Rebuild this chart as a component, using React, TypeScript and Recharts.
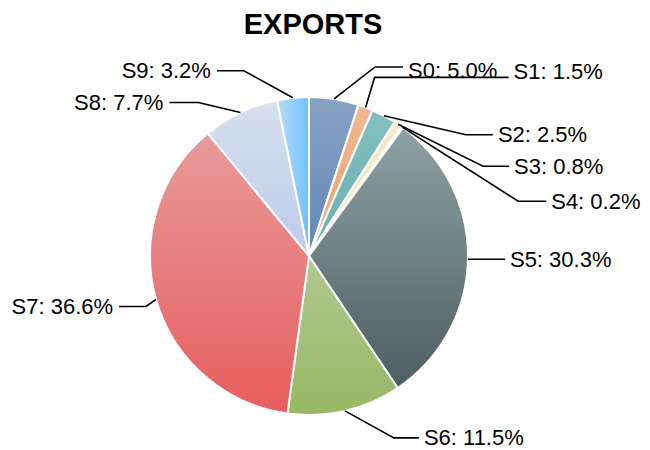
import React from 'react';
import { PieChart, Pie, Cell } from 'recharts';

const categories = ['S0', 'S1', 'S2', 'S3', 'S4', 'S5', 'S6', 'S7', 'S8', 'S9'];
const shares = [5.0, 1.5, 2.5, 0.8, 0.2, 30.3, 11.5, 36.6, 7.7, 3.2];

// gradient colours [start, end, horizontal?]
const gradients: [string, string, boolean][] = [
  ['#87a3c3', '#6088b8', false],
  ['#f2b892', '#eea070', false],
  ['#84c0c0', '#6aaeb0', false],
  ['#f4ecc8', '#ece0a8', false],
  ['#faf6e0', '#f0ecd0', false],
  ['#8da2a4', '#4e5e62', false],
  ['#b0c890', '#98b864', false],
  ['#e89a9a', '#e85e5e', false],
  ['#d8e0ee', '#bccbec', false],
  ['#b8dcf8', '#70c0ff', true],
];

// leader-line layout: elbow offset from the slice edge point, horizontal run, text vertical nudge
const labelLayout: { dx: number; dy: number; run: number; tdy: number }[] = [
  { dx: 41, dy: -32, run: 28, tdy: 4 },
  { dx: 9, dy: -30, run: 134, tdy: -6 },
  { dx: 82, dy: 19, run: 27, tdy: 0 },
  { dx: 85, dy: 42, run: 26, tdy: 0 },
  { dx: 116, dy: 74, run: 28, tdy: 0 },
  { dx: 10, dy: 0, run: 27, tdy: 0 },
  { dx: 49, dy: 27, run: 25, tdy: 0 },
  { dx: -10, dy: 7, run: 27, tdy: 0 },
  { dx: -42, dy: -10, run: 29, tdy: 0 },
  { dx: -49, dy: -27, run: 27, tdy: 0 },
];

const data = categories.map((name, i) => ({ name, value: shares[i] }));
const RADIAN = Math.PI / 180;
const FONT = '"Liberation Sans", Arial, sans-serif';

const renderLabel = (props: any) => {
  const { cx, cy, midAngle, outerRadius, index } = props;
  const lay = labelLayout[index];
  const sx = cx + outerRadius * Math.cos(-midAngle * RADIAN);
  const sy = cy + outerRadius * Math.sin(-midAngle * RADIAN);
  const ex = sx + lay.dx;
  const ey = sy + lay.dy;
  const right = lay.dx >= 0;
  const hx = ex + (right ? lay.run : -lay.run);
  const tx = hx + (right ? 5 : -6);
  return (
    <g key={`lbl-${index}`}>
      <polyline
        points={`${sx},${sy} ${ex},${ey} ${hx},${ey}`}
        fill="none"
        stroke="#000"
        strokeWidth={1.6}
      />
      <text
        x={tx}
        y={ey + lay.tdy}
        textAnchor={right ? 'start' : 'end'}
        dominantBaseline="central"
        fontFamily={FONT}
        fontSize={22}
        fill="#000"
      >
        {`${categories[index]}: ${shares[index].toFixed(1)}%`}
      </text>
    </g>
  );
};

export default function App() {
  return (
    <div style={{ position: 'absolute', left: 0, top: 0, width: 650, height: 450, background: '#fff' }}>
      <PieChart width={650} height={450} margin={{ top: 0, right: 0, bottom: 0, left: 0 }}>
        <defs>
          {gradients.map(([a, b, h], i) => (
            <linearGradient key={i} id={`g${i}`} x1="0" y1="0" x2={h ? '1' : '0'} y2={h ? '0' : '1'}>
              <stop offset="0%" stopColor={a} />
              <stop offset="100%" stopColor={b} />
            </linearGradient>
          ))}
        </defs>
        <text
          x={313}
          y={24}
          textAnchor="middle"
          dominantBaseline="central"
          fontFamily={FONT}
          fontWeight="bold"
          fontSize={29}
          fill="#000"
        >
          EXPORTS
        </text>
        <Pie
          data={data}
          dataKey="value"
          nameKey="name"
          cx={309}
          cy={256}
          outerRadius={159}
          startAngle={90}
          endAngle={-270}
          stroke="#fff"
          strokeWidth={2}
          label={renderLabel}
          labelLine={false}
          isAnimationActive={false}
        >
          {data.map((d, i) => (
            <Cell key={d.name} fill={`url(#g${i})`} />
          ))}
        </Pie>
      </PieChart>
    </div>
  );
}
